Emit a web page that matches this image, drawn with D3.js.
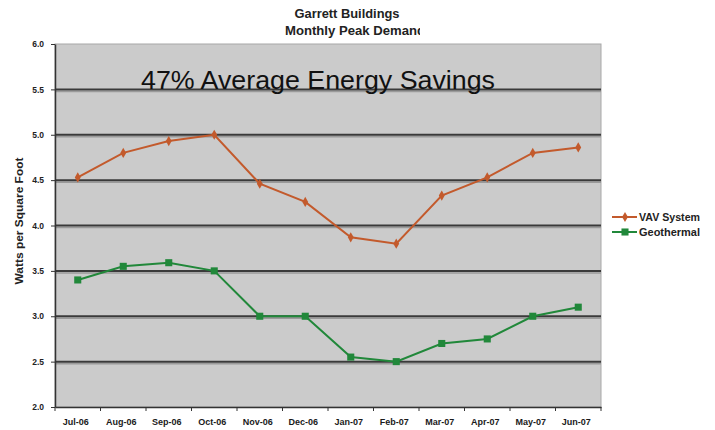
<!DOCTYPE html>
<html>
<head>
<meta charset="utf-8">
<script src="https://cdn.jsdelivr.net/npm/d3@7"></script>
<style>
  body { margin: 0; background: #fff; }
  svg { font-family: "Liberation Sans", Arial, sans-serif; }
</style>
</head>
<body>
<div id="chart"></div>
<script>
// data
const months = ["Jul-06", "Aug-06", "Sep-06", "Oct-06", "Nov-06", "Dec-06",
                "Jan-07", "Feb-07", "Mar-07", "Apr-07", "May-07", "Jun-07"];
const vav = [4.53, 4.80, 4.93, 5.00, 4.46, 4.26, 3.87, 3.80, 4.33, 4.53, 4.80, 4.86];
const geo = [3.40, 3.55, 3.59, 3.50, 3.00, 3.00, 2.55, 2.50, 2.70, 2.75, 3.00, 3.10];
const yTicks = [2.0, 2.5, 3.0, 3.5, 4.0, 4.5, 5.0, 5.5, 6.0];

const W = 715, H = 430;
const margin = {top: 44, right: 114, bottom: 23, left: 55};
const w = W - margin.left - margin.right;
const h = H - margin.top - margin.bottom;

const svg = d3.select("#chart").append("svg")
  .attr("width", W).attr("height", H);

const g = svg.append("g")
  .attr("transform", `translate(${margin.left},${margin.top})`);

const x = d3.scaleBand().domain(months).range([0, w]);
const y = d3.scaleLinear().domain([2, 6]).range([h, 0]);

// plot background
g.append("rect")
  .attr("width", w).attr("height", h)
  .attr("fill", "#cbcbcb")
  .attr("stroke", "#a8a8a8");

// gridlines (dark with a lighter shadow)
const grid = g.append("g");
grid.selectAll("line.sh")
  .data(yTicks.slice(1, -1))
  .join("line")
  .attr("class", "sh")
  .attr("x1", 0).attr("x2", w)
  .attr("y1", d => y(d) + 2).attr("y2", d => y(d) + 2)
  .attr("stroke", "#9a9a9a").attr("stroke-width", 1.5);
grid.selectAll("line.gl")
  .data(yTicks.slice(1, -1))
  .join("line")
  .attr("class", "gl")
  .attr("x1", 0).attr("x2", w)
  .attr("y1", d => y(d)).attr("y2", d => y(d))
  .attr("stroke", "#3a3a3a").attr("stroke-width", 2);

// axes
const yAxis = g.append("g")
  .call(d3.axisLeft(y).tickValues(yTicks).tickFormat(d3.format(".1f")).tickSize(4).tickSizeOuter(0));
yAxis.select(".domain").attr("stroke", "#333").attr("stroke-width", 1.5);
yAxis.selectAll("line").attr("stroke", "#333");
yAxis.selectAll("text")
  .attr("font-size", 8.5).attr("font-weight", "bold").attr("fill", "#222").attr("x", -11);

const xAxis = g.append("g")
  .attr("transform", `translate(0,${h})`)
  .call(d3.axisBottom(x).tickSize(0).tickSizeOuter(0));
xAxis.select(".domain").attr("stroke", "#333").attr("stroke-width", 1.5);
xAxis.selectAll("text")
  .attr("font-size", 9).attr("font-weight", "bold").attr("fill", "#1a1a1a")
  .attr("dy", "1.7em").attr("x", -2);
// category separator ticks
xAxis.selectAll("line.sep")
  .data(months.concat(["end"]))
  .join("line")
  .attr("class", "sep")
  .attr("x1", (d, i) => i * x.step()).attr("x2", (d, i) => i * x.step())
  .attr("y1", 0).attr("y2", 4)
  .attr("stroke", "#333");

// series
const series = [
  {name: "VAV System", values: vav, color: "#c35a2c", shape: d3.symbolDiamond, size: 30},
  {name: "Geothermal", values: geo, color: "#21883a", shape: d3.symbolSquare, size: 50}
];

const line = d3.line()
  .x((d, i) => x(months[i]) + x.bandwidth() / 2)
  .y(d => y(d));

series.forEach(s => {
  g.append("path")
    .datum(s.values)
    .attr("fill", "none")
    .attr("stroke", s.color)
    .attr("stroke-width", 2)
    .attr("d", line);
  g.selectAll(null)
    .data(s.values)
    .join("path")
    .attr("transform", (d, i) => `translate(${x(months[i]) + x.bandwidth() / 2},${y(d)})`)
    .attr("d", d3.symbol().type(s.shape).size(s.size))
    .attr("fill", s.color);
});

// title (second line is cut off in the original)
svg.append("defs").append("clipPath").attr("id", "tclip")
  .append("rect").attr("x", 0).attr("y", 0).attr("width", 420).attr("height", 40);
const title = svg.append("g").attr("clip-path", "url(#tclip)");
title.append("text")
  .attr("x", 347).attr("y", 18)
  .attr("text-anchor", "middle")
  .attr("font-size", 12.5).attr("font-weight", "bold").attr("fill", "#222")
  .attr("textLength", 105).attr("lengthAdjust", "spacingAndGlyphs")
  .text("Garrett Buildings");
title.append("text")
  .attr("x", 285).attr("y", 35)
  .attr("font-size", 12.5).attr("font-weight", "bold").attr("fill", "#222")
  .attr("textLength", 140).attr("lengthAdjust", "spacingAndGlyphs")
  .text("Monthly Peak Demand");

// annotation
g.append("text")
  .attr("x", 86).attr("y", 45)
  .attr("font-size", 25.5).attr("fill", "#111")
  .attr("textLength", 354).attr("lengthAdjust", "spacingAndGlyphs")
  .text("47% Average Energy Savings");

// y label
svg.append("text")
  .attr("transform", "rotate(-90)")
  .attr("x", -221).attr("y", 23)
  .attr("text-anchor", "middle")
  .attr("font-size", 10.5).attr("font-weight", "bold").attr("fill", "#222")
  .attr("textLength", 127).attr("lengthAdjust", "spacingAndGlyphs")
  .text("Watts per Square Foot");

// legend
const legend = svg.append("g").attr("transform", "translate(612,217)");
series.forEach((s, i) => {
  const row = legend.append("g").attr("transform", `translate(0,${i * 15})`);
  row.append("line").attr("x1", 0).attr("x2", 25)
    .attr("stroke", s.color).attr("stroke-width", 2);
  row.append("path").attr("transform", "translate(13,0)")
    .attr("d", d3.symbol().type(s.shape).size(s.size)).attr("fill", s.color);
  row.append("text").attr("x", 27).attr("dy", "0.35em")
    .attr("font-size", 10).attr("font-weight", "bold").attr("fill", "#222")
    .attr("textLength", 61).attr("lengthAdjust", "spacingAndGlyphs")
    .text(s.name);
});
</script>
</body>
</html>
